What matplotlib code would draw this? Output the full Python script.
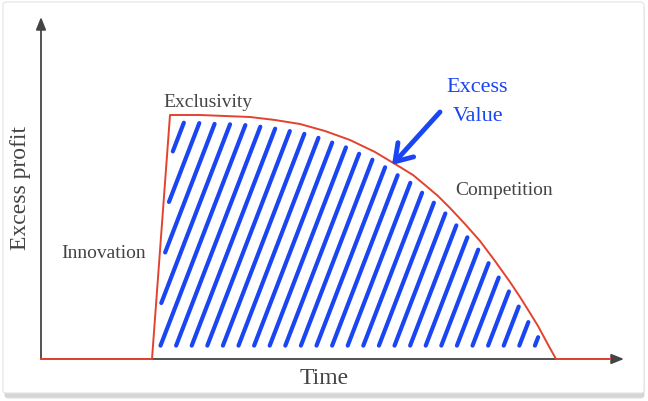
import numpy as np
import matplotlib
matplotlib.use("Agg")
import matplotlib.pyplot as plt
from matplotlib.patches import FancyBboxPatch
from matplotlib.path import Path

plt.rcParams['font.family'] = ['Liberation Serif', 'DejaVu Serif']

# excess profit curve over time (arbitrary units)
time_pts = [0, 111, 129, 159, 184, 209, 234, 259, 284, 309, 334, 359, 372,
            384, 397, 409, 424, 439, 454, 469, 479, 489, 497, 504, 510, 515, 569]
profit_pts = [0, 0, 244, 244, 243, 242, 239, 235, 228, 219, 207, 192, 184,
              174, 163, 151, 135, 118, 98, 77, 62, 46, 33, 20, 9, 0, 0]

# labels and where they sit
stage_labels = ["Innovation", "Exclusivity", "Competition"]
stage_x = [20, 122, 414]
stage_y = [101, 252, 164]

dark = '#444444'
red = '#e2432f'
blue = '#1a45f2'

fig = plt.figure(figsize=(6.48, 4.01), dpi=100)
fig.patch.set_facecolor('white')

# card with soft shadow
for i, a in enumerate([0.05, 0.07, 0.10, 0.14]):
    sh = FancyBboxPatch(((4 + i * 0.3) / 648, (4 - i * 0.6) / 401),
                        (641 - i * 0.6) / 648, (392 - i * 0.6) / 401,
                        boxstyle="round,pad=0,rounding_size=0.006",
                        transform=fig.transFigure, facecolor='#808080',
                        edgecolor='none', alpha=a, zorder=-3)
    fig.patches.append(sh)
card = FancyBboxPatch((3 / 648, 8 / 401), 641 / 648, 391 / 401,
                      boxstyle="round,pad=0,rounding_size=0.006",
                      transform=fig.transFigure, facecolor='white',
                      edgecolor='#e4e4e4', lw=0.8, zorder=-2)
fig.patches.append(card)

ax = fig.add_axes([41 / 648, 42 / 401, 586 / 648, 341 / 401])
ax.set_zorder(2)
ax.set_xlim(0, 586)
ax.set_ylim(0, 341)
ax.axis('off')

# axes with arrow heads
arw = dict(arrowstyle='-|>,head_length=0.75,head_width=0.3', mutation_scale=10,
           lw=1.3, color=dark, shrinkA=0, shrinkB=0)
ax.annotate('', xy=(0, 342), xytext=(0, 0), arrowprops=arw, annotation_clip=False)
ax.annotate('', xy=(583, 0), xytext=(0, 0), arrowprops=arw, annotation_clip=False)

# hand drawn style hatching inside the area (strokes stop short of the edges)
inset = [(117, 13), (134, 237)]
for x, y in zip(time_pts[3:-2], profit_pts[3:-2]):
    if y - 8 > 13:
        inset.append((x - 2, y - 8))
inset.append((503, 13))
region = Path(inset + [inset[0]], closed=True)
slope = 2.6
for b in np.arange(25, 560, 15.6):
    yy = np.linspace(13, 331, 800)
    xx = b + (yy - 11) / slope
    ok = region.contains_points(np.column_stack([xx, yy]))
    if ok.sum() < 2:
        continue
    idx = np.where(ok)[0]
    ax.plot([xx[idx[0]], xx[idx[-1]]], [yy[idx[0]], yy[idx[-1]]], color=blue,
            lw=3.0, solid_capstyle='round', zorder=2)

ax.plot(time_pts, profit_pts, color=red, lw=1.4, zorder=4,
        solid_joinstyle='round', clip_on=False)

for lab, x, y in zip(stage_labels, stage_x, stage_y):
    ax.text(x, y, lab, fontsize=14, color=dark, va='baseline', ha='left')

ax.text(436, 267, "Excess", fontsize=16, color=blue, ha='center', va='baseline')
ax.text(437, 238, "Value", fontsize=16, color=blue, ha='center', va='baseline')
ax.annotate('', xy=(351, 194), xytext=(399, 247),
            arrowprops=dict(arrowstyle='->,head_length=0.58,head_width=0.38',
                            mutation_scale=20, lw=3.5, color=blue,
                            shrinkA=0, shrinkB=0), zorder=5)

fig.text(324 / 648, 1 - 384 / 401, "Time", fontsize=17, color=dark,
         ha='center', va='baseline', zorder=3)
fig.text(21 / 648, 1 - 188 / 401, "Excess profit", fontsize=17, color=dark,
         ha='center', va='center', rotation=90, zorder=3)

fig.savefig("out.png", dpi=100)
